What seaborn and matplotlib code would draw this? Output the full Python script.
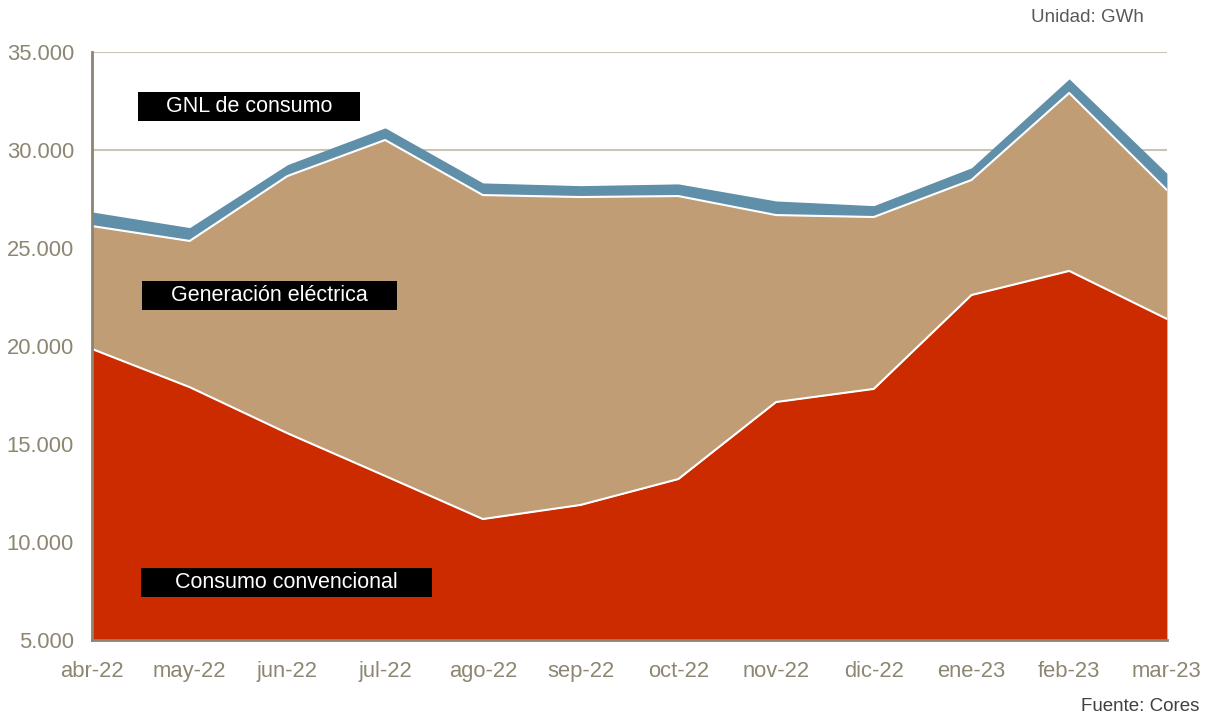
import pandas as pd
import matplotlib
matplotlib.use("Agg")
import matplotlib.pyplot as plt
import seaborn as sns
from matplotlib.patches import Rectangle
from matplotlib.ticker import FuncFormatter

months = ["abr-22", "may-22", "jun-22", "jul-22", "ago-22", "sep-22",
          "oct-22", "nov-22", "dic-22", "ene-23", "feb-23", "mar-23"]
consumo_conv = [19850, 17900, 15550, 13370, 11170, 11890,
                13210, 17140, 17810, 22600, 23830, 21380]
generacion = [6270, 7460, 13120, 17140, 16530, 15710,
              14440, 9540, 8770, 5870, 9080, 6580]
gnl = [720, 680, 580, 620, 620, 580, 620, 720, 580, 620, 720, 850]

df = pd.DataFrame({"mes": months, "conv": consumo_conv, "gen": generacion, "gnl": gnl})
df["x"] = range(len(df))
df["top_conv"] = df["conv"]
df["top_gen"] = df["conv"] + df["gen"]

sns.set_theme(style="white")
plt.rcParams["font.family"] = ["Liberation Sans", "DejaVu Sans"]

tick_col = "#8C8672"
fig = plt.figure(figsize=(12.13, 7.17), dpi=100)
ax = fig.add_axes([0.0758, 0.1074, 0.8862, 0.8201])

ax.stackplot(df["x"], df["conv"], df["gen"], df["gnl"],
             colors=["#CC2B00", "#C19D76", "#5F8FA9"], linewidth=0)
sns.lineplot(data=df, x="x", y="top_conv", color="white", linewidth=1.5, ax=ax)
sns.lineplot(data=df, x="x", y="top_gen", color="white", linewidth=1.5, ax=ax)

ax.set_xlim(0, len(months) - 1)
ax.set_ylim(5000, 35000)
ax.set_yticks(range(5000, 35001, 5000))
ax.yaxis.set_major_formatter(FuncFormatter(lambda v, p: f"{int(v):,}".replace(",", ".")))
ax.set_xticks(df["x"])
ax.set_xticklabels(months)
ax.set_xlabel("")
ax.set_ylabel("")

ax.grid(axis="y", color="#CAC4B6", linewidth=1.5)
ax.set_axisbelow(True)
ax.tick_params(axis="both", length=0, labelsize=15.8, colors=tick_col)
ax.tick_params(axis="y", pad=13)
ax.tick_params(axis="x", pad=15)
for s in ["top", "right"]:
    ax.spines[s].set_visible(False)
for s in ["left", "bottom"]:
    ax.spines[s].set_color("#8C8470")
    ax.spines[s].set_linewidth(2)
    ax.spines[s].set_zorder(5)

boxes = [
    ("GNL de consumo", 0.0428, 0.8827, 0.2065, 0.0493),
    ("Generación eléctrica", 0.0465, 0.5612, 0.2372, 0.0493),
    ("Consumo convencional", 0.0456, 0.0731, 0.2707, 0.0493),
]
for label, bx, by, bw, bh in boxes:
    ax.add_patch(Rectangle((bx, by), bw, bh, transform=ax.transAxes,
                           facecolor="black", edgecolor="none", zorder=6))
    ax.text(bx + bw / 2, by + bh / 2, label, transform=ax.transAxes,
            ha="center", va="center", color="white", fontsize=15.5, zorder=7)

fig.text(0.9434, 0.976, "Unidad: GWh", ha="right", va="center", fontsize=13.5, color="#595959")
fig.text(0.9885, 0.003, "Fuente: Cores", ha="right", va="bottom", fontsize=13.5, color="#404040")

fig.savefig("out.png", dpi=100)
